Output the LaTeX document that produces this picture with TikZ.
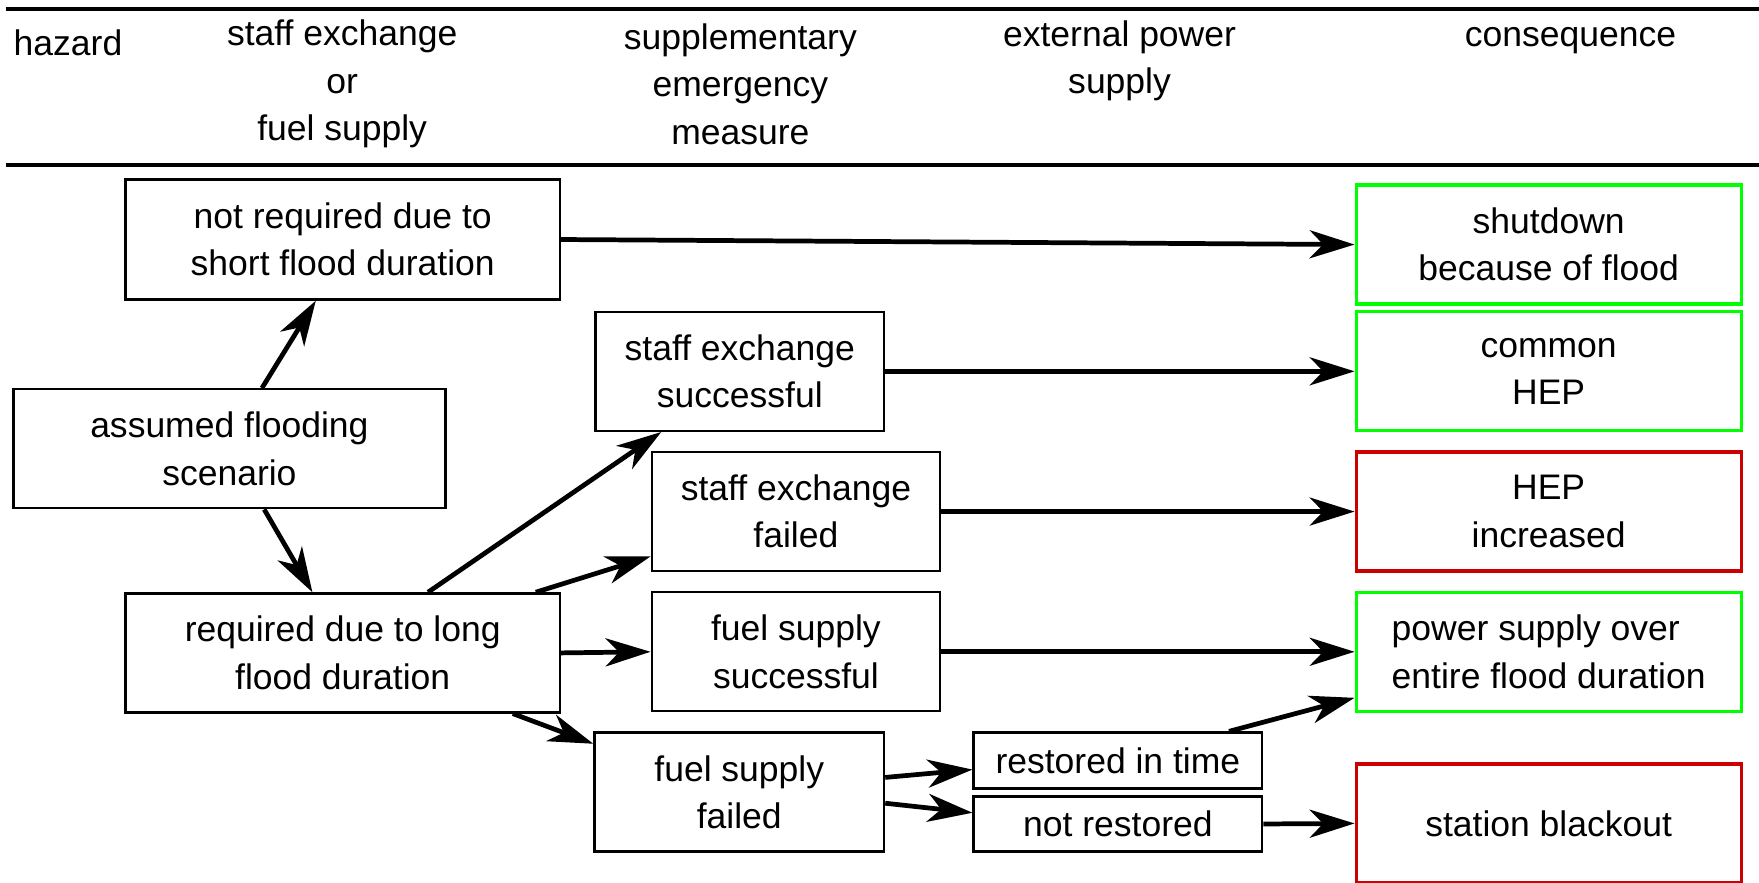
\documentclass[tikz,border=0pt]{standalone}
\usepackage{fontspec}
\setmainfont{Liberation Sans}
\usetikzlibrary{arrows.meta}
\definecolor{okgreen}{RGB}{0,255,0}
\definecolor{badred}{RGB}{204,0,0}
\begin{document}
\begin{tikzpicture}[x = 0.01cm, y = -0.01cm,
  stepbox/.style = {draw, line width = 0.6pt, align = center, inner sep = 0, minimum height = 1.06cm},
  good/.style = {stepbox, draw = okgreen, line width = 0.8pt, minimum width = 3.43cm},
  bad/.style = {stepbox, draw = badred, line width = 0.8pt, minimum width = 3.43cm},
  arr/.style = {-{Stealth[length = 0.4cm, width = 0.25cm, inset = 0.12cm]}, line width = 1.2pt}]
\fontsize{9}{12}\selectfont
\useasboundingbox (0,0) rectangle (1568,787);
% header
\draw[line width = 1.2pt] (5,8) -- (1568,8);
\draw[line width = 1.2pt] (5,147) -- (1568,147);
\node[anchor = west] (hhazard) at (1,38) {hazard};
\node[align = center] (hstaff) at (305,75) {staff exchange\\or\\fuel supply};
\node[align = center] (hsupp) at (660,75) {supplementary\\emergency\\measure};
\node[align = center] (hext) at (998,54) {external power\\supply};
\node (hcons) at (1400,36) {consequence};
% hazard and first decision
\node[stepbox, minimum width = 3.85cm] (assumed) at (204.5,400) {assumed flooding\\scenario};
\node[stepbox, minimum width = 3.87cm, minimum height = 1.07cm] (nreq) at (305.5,213.5) {not required due to\\short flood duration};
\node[stepbox, minimum width = 3.87cm] (req) at (305.5,582) {required due to long\\flood duration};
% emergency measures
\node[stepbox, minimum width = 2.57cm] (sesucc) at (659.5,331) {staff exchange\\successful};
\node[stepbox, minimum width = 2.57cm] (sefail) at (709.5,456) {staff exchange\\failed};
\node[stepbox, minimum width = 2.57cm] (fssucc) at (709.5,581) {fuel supply\\successful};
\node[stepbox, minimum width = 2.58cm] (fsfail) at (659,706) {fuel supply\\failed};
% external power
\node[stepbox, minimum width = 2.57cm, minimum height = 0.5cm] (restored) at (996.5,678) {restored in time};
\node[stepbox, minimum width = 2.57cm, minimum height = 0.49cm] (notrest) at (996.5,734.5) {not restored};
% consequences
\node[good] (shutdown) at (1380.5,218) {shutdown\\because of flood};
\node[good] (common) at (1380.5,331) {common\\HEP};
\node[bad] (hepinc) at (1380.5,456) {HEP\\increased};
\node[good, align = left] (power) at (1380.5,581) {power supply over\\entire flood duration};
\node[bad] (blackout) at (1380.5,734) {station blackout};
% arrows
\draw[arr] ([xshift = 0.29cm]assumed.north) -- ([xshift = -0.24cm]nreq.south);
\draw[arr] ([xshift = 0.31cm]assumed.south) -- ([xshift = -0.27cm]req.north);
\draw[arr] (nreq.east) -- (shutdown.west);
\draw[arr] ([xshift = 0.76cm]req.north) -- ([xshift = -0.7cm]sesucc.south);
\draw[arr] ([xshift = 1.72cm]req.north) -- ([yshift = -0.4cm]sefail.west);
\draw[arr] (req.east) -- (fssucc.west);
\draw[arr] ([xshift = 1.515cm]req.south) -- ([yshift = 0.43cm]fsfail.west);
\draw[arr] (sesucc.east) -- (common.west);
\draw[arr] (sefail.east) -- (hepinc.west);
\draw[arr] (fssucc.east) -- (power.west);
\draw[arr] ([yshift = 0.13cm]fsfail.east) -- ([yshift = -0.08cm]restored.west);
\draw[arr] ([yshift = -0.1cm]fsfail.east) -- ([yshift = 0.1cm]notrest.west);
\draw[arr] ([xshift = 0.99cm]restored.north) -- ([yshift = -0.41cm]power.west);
\draw[arr] (notrest.east) -- (blackout.west);
\end{tikzpicture}
\end{document}
